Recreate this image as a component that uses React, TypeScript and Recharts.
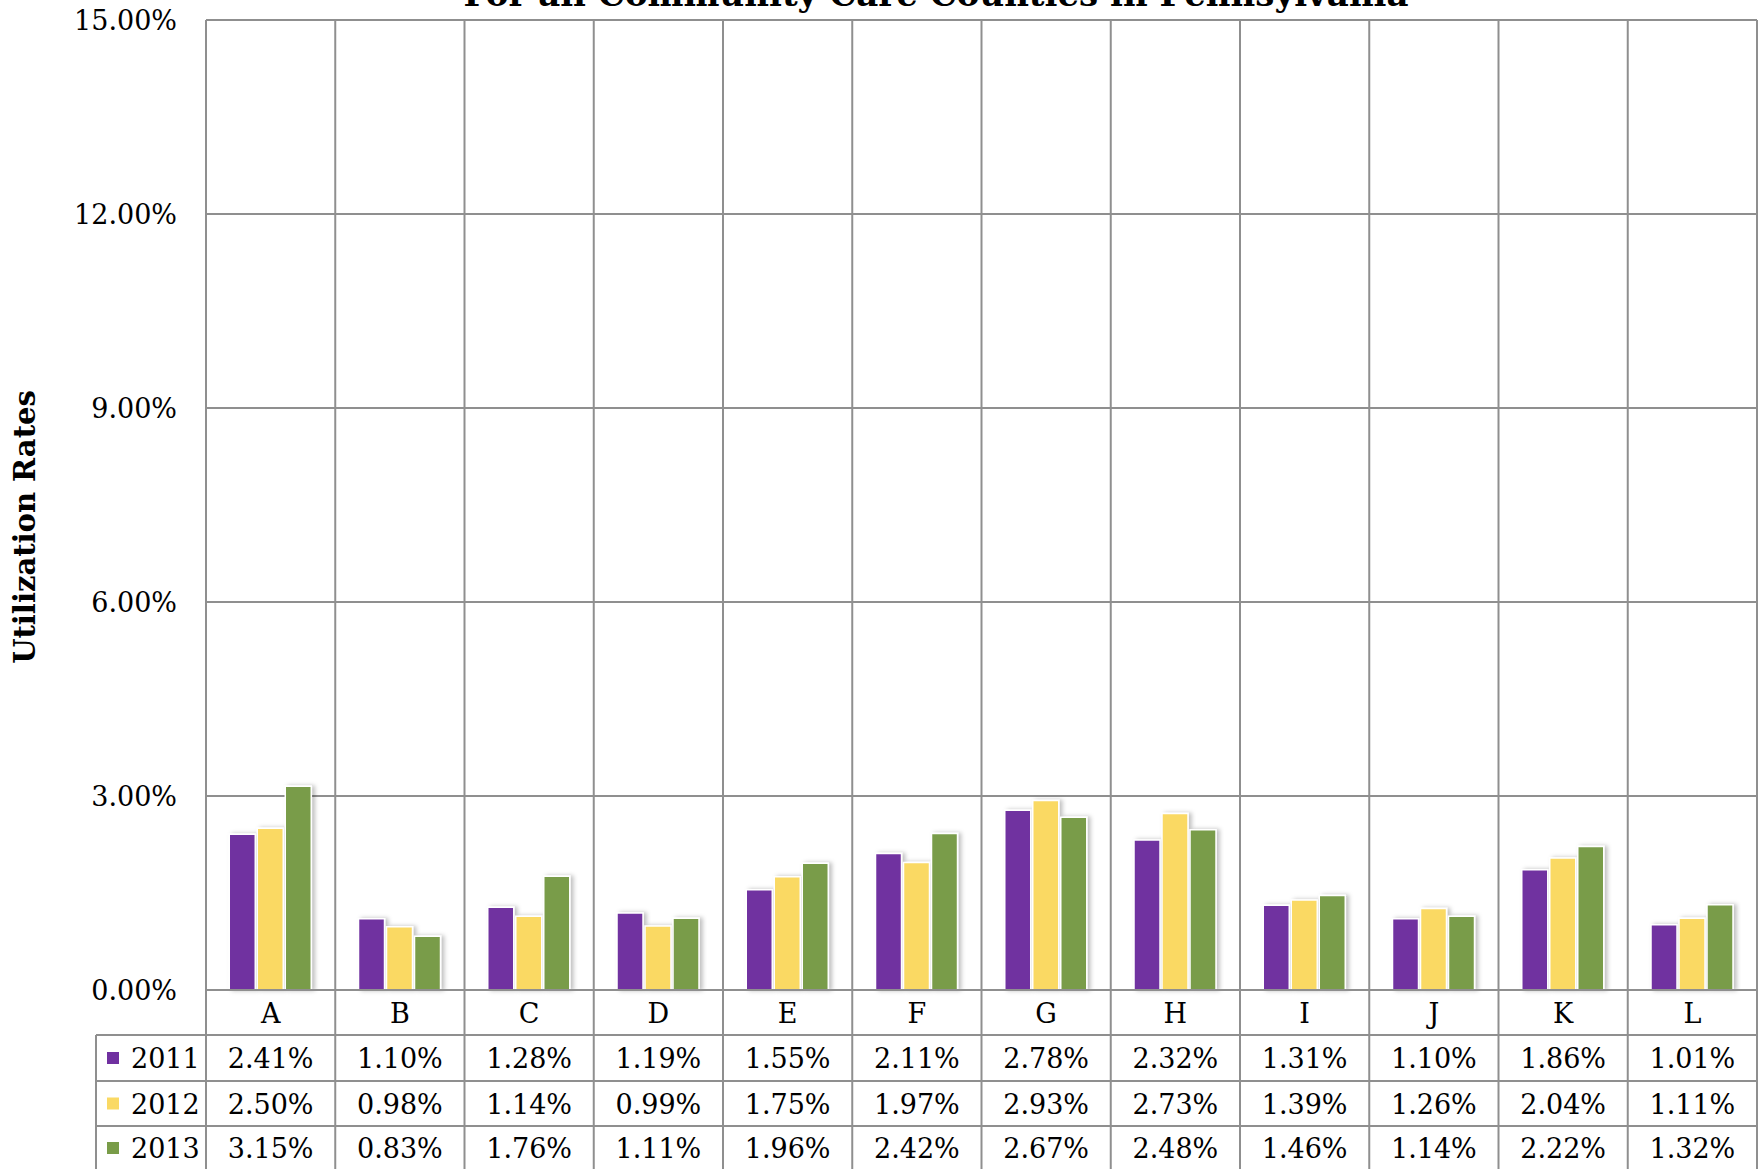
import React from 'react';
import { BarChart, Bar, XAxis, YAxis, CartesianGrid, Rectangle } from 'recharts';

const categories = ['A', 'B', 'C', 'D', 'E', 'F', 'G', 'H', 'I', 'J', 'K', 'L'];
const rates2011 = [2.41, 1.10, 1.28, 1.19, 1.55, 2.11, 2.78, 2.32, 1.31, 1.10, 1.86, 1.01];
const rates2012 = [2.50, 0.98, 1.14, 0.99, 1.75, 1.97, 2.93, 2.73, 1.39, 1.26, 2.04, 1.11];
const rates2013 = [3.15, 0.83, 1.76, 1.11, 1.96, 2.42, 2.67, 2.48, 1.46, 1.14, 2.22, 1.32];
const yTicks = [0, 3, 6, 9, 12, 15];
const seriesNames = ['2011', '2012', '2013'];
const seriesValues = [rates2011, rates2012, rates2013];
const colors = ['#7030A0', '#FAD964', '#799C48'];
const title = 'For all Community Care Counties in Pennsylvania';
const yTitle = 'Utilization Rates';

const data = categories.map((c, i) => ({
  cat: c,
  y2011: rates2011[i],
  y2012: rates2012[i],
  y2013: rates2013[i],
}));

const W = 1758;
const H = 1169;
const PLOT_LEFT = 206;
const PLOT_TOP = 20;
const ZERO_Y = 990;
const RIGHT = 1757;
const TABLE_LEFT = 96;
const ROW_LINES = [1035, 1081, 1126];
const ROW_CENTERS = [1058, 1103.5, 1148];
const GRID = '#8f8f8f';
const FONT = '"DejaVu Serif", serif';
const FS = 27;
const HALF_BAND = (RIGHT - PLOT_LEFT) / categories.length / 2;

const fmt = (v: number) => v.toFixed(2) + '%';

function TableTick(props: any) {
  const { x, y, payload } = props;
  const i = payload.index;
  const last = i === categories.length - 1;
  return (
    <g>
      <line x1={x - HALF_BAND} x2={x - HALF_BAND} y1={PLOT_TOP} y2={H} stroke={GRID} strokeWidth={2} />
      {last && <line x1={x + HALF_BAND} x2={x + HALF_BAND} y1={PLOT_TOP} y2={H} stroke={GRID} strokeWidth={2} />}
      {i === 0 && (
        <g>
          {ROW_LINES.map((ly) => (
            <line key={ly} x1={TABLE_LEFT} x2={RIGHT} y1={ly} y2={ly} stroke={GRID} strokeWidth={2} />
          ))}
          <line x1={TABLE_LEFT} x2={TABLE_LEFT} y1={ROW_LINES[0]} y2={H} stroke={GRID} strokeWidth={2} />
          {seriesNames.map((n, k) => (
            <g key={n}>
              <rect x={107} y={ROW_CENTERS[k] - 6} width={12} height={12} fill={colors[k]} />
              <text x={131} y={ROW_CENTERS[k] + 10} fontFamily={FONT} fontSize={FS} fill="#000">
                {n}
              </text>
            </g>
          ))}
        </g>
      )}
      <text x={x} y={y + 22.5 + 10} textAnchor="middle" fontFamily={FONT} fontSize={FS} fill="#000">
        {payload.value}
      </text>
      {seriesValues.map((arr, k) => (
        <text key={k} x={x} y={ROW_CENTERS[k] + 10} textAnchor="middle" fontFamily={FONT} fontSize={FS} fill="#000">
          {fmt(arr[i])}
        </text>
      ))}
    </g>
  );
}

const BarShape = (props: any) => <Rectangle {...props} filter="url(#barShadow)" />;

export default function App() {
  return (
    <div style={{ position: 'absolute', left: 0, top: 0, width: W, height: H, background: '#fff', overflow: 'hidden' }}>
      <svg width={0} height={0} style={{ position: 'absolute' }}>
        <defs>
          <filter id="barShadow" x="-20%" y="-10%" width="150%" height="130%">
            <feDropShadow dx={3} dy={0} stdDeviation={2} floodColor="#000" floodOpacity={0.25} />
          </filter>
        </defs>
      </svg>
      <BarChart
        width={W}
        height={H}
        data={data}
        margin={{ top: PLOT_TOP, right: W - RIGHT, left: 0, bottom: 0 }}
        barCategoryGap="18%"
        barGap={2}
      >
        <CartesianGrid stroke={GRID} strokeWidth={2} vertical={false} horizontal />
        <XAxis
          dataKey="cat"
          height={H - ZERO_Y}
          axisLine={{ stroke: GRID, strokeWidth: 2 }}
          tickLine={false}
          tickSize={0}
          tickMargin={0}
          interval={0}
          tick={<TableTick />}
        />
        <YAxis
          width={PLOT_LEFT}
          domain={[0, 15]}
          ticks={yTicks}
          axisLine={false}
          tickLine={false}
          tickSize={0}
          tickMargin={29}
          tickFormatter={fmt}
          tick={{ fontFamily: FONT, fontSize: FS, fill: '#000' }}
        />
        <Bar dataKey="y2011" fill={colors[0]} stroke="#fff" strokeWidth={1.5} isAnimationActive={false} shape={BarShape} />
        <Bar dataKey="y2012" fill={colors[1]} stroke="#fff" strokeWidth={1.5} isAnimationActive={false} shape={BarShape} />
        <Bar dataKey="y2013" fill={colors[2]} stroke="#fff" strokeWidth={1.5} isAnimationActive={false} shape={BarShape} />
      </BarChart>
      <svg width={W} height={H} style={{ position: 'absolute', left: 0, top: 0, pointerEvents: 'none' }}>
        <text x={936} y={6} textAnchor="middle" fontFamily={FONT} fontWeight="bold" fontSize={34} fill="#000">
          {title}
        </text>
        <text
          x={25}
          y={527}
          transform="rotate(-90 25 527)"
          textAnchor="middle"
          dominantBaseline="central"
          fontFamily={FONT}
          fontWeight="bold"
          fontSize={29}
          fill="#000"
        >
          {yTitle}
        </text>
      </svg>
    </div>
  );
}
